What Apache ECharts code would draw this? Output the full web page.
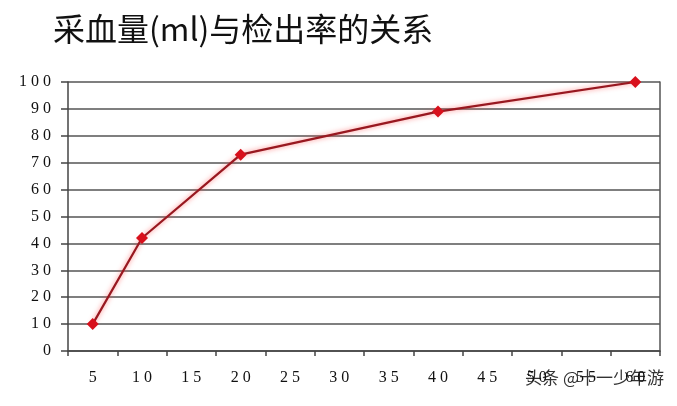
<!DOCTYPE html>
<html><head><meta charset="utf-8">
<script src="https://cdn.jsdelivr.net/npm/echarts@6/dist/echarts.min.js"></script>
<style>html,body{margin:0;padding:0;background:#fff}#c{width:677px;height:406px}</style>
</head><body><div id="c"></div>
<script>
const title = '采血量(ml)与检出率的关系';
const categories = ['5','10','15','20','25','30','35','40','45','50','55','60'];
const detectionRate = [10, 42, null, 73, null, null, null, 89, null, null, null, 100];
const yTicks = {min: 0, max: 100, interval: 10};
const watermark = '头条 @十一少年游';

const spaced = v => String(v).split('').join(' ');
const chart = echarts.init(document.getElementById('c'), null, {renderer: 'canvas'});
chart.setOption({
  backgroundColor: '#ffffff',
  animation: false,
  title: {
    text: title, left: 48, top: 8,
    textStyle: {fontFamily: 'Noto Sans CJK SC', fontSize: 32, fontWeight: 'normal', color: '#111'}
  },
  grid: {left: 68, right: 17, top: 82, bottom: 55},
  xAxis: {
    type: 'category', data: categories, boundaryGap: true,
    axisLine: {lineStyle: {color: '#444', width: 1.5}},
    axisTick: {show: true, alignWithLabel: false, length: 5, lineStyle: {color: '#444', width: 1.5}},
    axisLabel: {margin: 19, formatter: spaced, fontFamily: 'Liberation Serif', fontSize: 16, color: '#111'},
    splitLine: {show: false}
  },
  yAxis: [{
    type: 'value', min: yTicks.min, max: yTicks.max, interval: yTicks.interval,
    axisLine: {show: true, lineStyle: {color: '#444', width: 1.5}},
    axisTick: {show: true, length: 7, lineStyle: {color: '#444', width: 1.5}},
    axisLabel: {margin: 17, formatter: spaced, fontFamily: 'Liberation Serif', fontSize: 16, color: '#111'},
    splitLine: {show: true, lineStyle: {color: '#555', width: 1.5}}
  }, {
    type: 'value', min: yTicks.min, max: yTicks.max, interval: yTicks.interval, position: 'right',
    axisLine: {show: true, lineStyle: {color: '#555', width: 1.5}},
    axisTick: {show: false}, axisLabel: {show: false}, splitLine: {show: false}
  }],
  series: [{
    type: 'line', data: detectionRate, connectNulls: true,
    symbol: 'diamond', symbolSize: 12,
    itemStyle: {color: '#d8101c'},
    lineStyle: {color: '#981820', width: 2.2, shadowColor: 'rgba(255,70,70,0.7)', shadowBlur: 5}
  }],
  graphic: [{
    type: 'text', right: 12, top: 368,
    style: {text: watermark, fontFamily: 'Noto Sans CJK SC', fontSize: 17, fill: '#333', stroke: '#fff', lineWidth: 2}
  }]
});
</script></body></html>
